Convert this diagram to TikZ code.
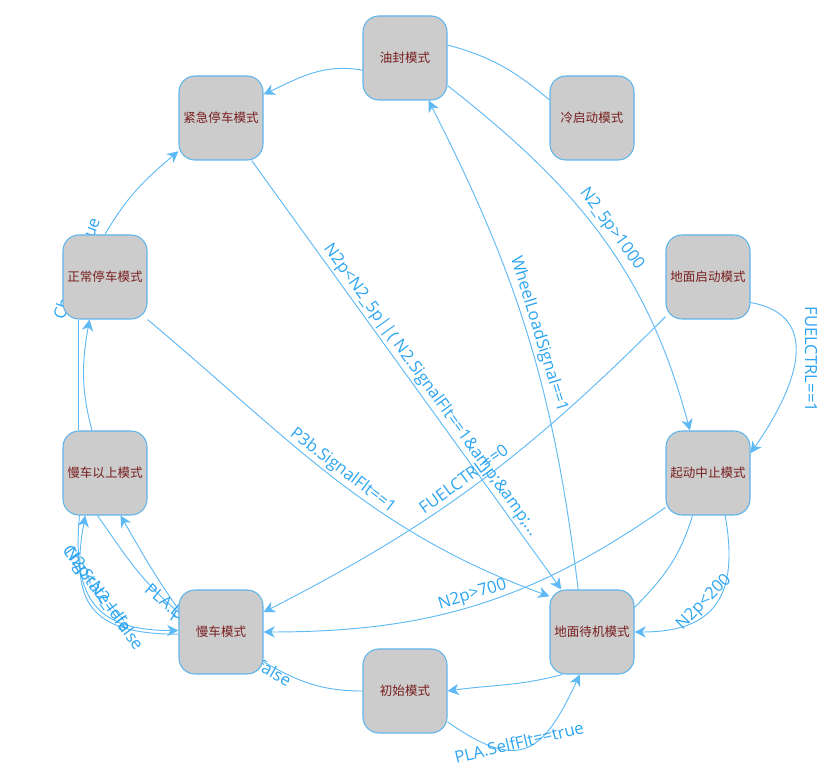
\documentclass[tikz,border=0pt]{standalone}
\usepackage{fontspec}
\setmainfont{Open Sans}
\newfontfamily\cjk{Noto Sans CJK SC}
\usetikzlibrary{arrows.meta}
\pgfdeclarelayer{bg}
\pgfsetlayers{bg,main}
\definecolor{edgecol}{RGB}{95,185,245}
\definecolor{lblcol}{RGB}{45,165,240}
\definecolor{nodeborder}{RGB}{95,180,235}
\definecolor{nodefill}{RGB}{204,204,204}
\definecolor{nodetext}{RGB}{120,30,30}
\tikzset{
  state/.style={draw=nodeborder, fill=nodefill, rounded corners=12pt, minimum width=63pt, minimum height=63pt, inner sep=0pt, line width=0.8pt, text=nodetext, font=\cjk\fontsize{9.4}{11}\selectfont},
  link/.style={draw=edgecol, line width=0.7pt, -{Stealth[length=8.5pt,width=8.5pt,inset=2.6pt]}},
  plainlink/.style={draw=edgecol, line width=0.7pt},
  lbl/.style={text=lblcol, font=\fontsize{12.5}{14}\selectfont, inner sep=1.5pt},
}
\begin{document}
\begin{tikzpicture}[x=0.75pt,y=0.75pt]
\useasboundingbox (0,0) rectangle (833,771);
\node[state] (oil) at (405,713) {油封模式};
\node[state] (cold) at (592,653) {冷启动模式};
\node[state] (emg) at (221,653) {紧急停车模式};
\node[state] (norm) at (105,494) {正常停车模式};
\node[state] (gstart) at (708,494) {地面启动模式};
\node[state] (above) at (105,298) {慢车以上模式};
\node[state] (abort) at (708,298) {起动中止模式};
\node[state] (idle) at (221,139) {慢车模式};
\node[state] (gstby) at (592,139) {地面待机模式};
\node[state] (init) at (405,80) {初始模式};
\begin{pgfonlayer}{bg}
\draw[link] (oil.196) to[out=170,in=25] (emg.29);
\draw[plainlink] (cold.157) to[out=140,in=-15] (oil.17);
\draw[link] (emg) -- (gstby) node[lbl, sloped, above, pos=0.55] {N2p<N2\_5p||( N2.SignalFlt==1\&amp;\&amp;...};
\draw[link] (norm.north) to[out=60,in=220] (emg.218);
\node[lbl, rotate=70] (lblch) at (78,502) {Charge==true};
\draw[link] (norm.-45) to[out=-40,in=160] node[lbl, sloped, above, pos=0.5] {P3b.SignalFlt==1} (gstby.140);
\draw[link] (oil.-33) to[out=-38,in=105] node[lbl, sloped, above, pos=0.5, inner sep=3pt] {N2\_5p>1000} (abort.113);
\draw[link] (gstby.108) to[out=97,in=-63] node[lbl, sloped, above, pos=0.5] {WheelLoadSignal==1} (oil.-61);
\draw[link] (gstart.-31) to[out=-10,in=55,looseness=1.3] node[lbl, pos=0.5, rotate=-90, anchor=south, inner sep=7pt] {FUELCTRL==1} (abort.25);
\draw[link] (gstart.223) to[out=225,in=27] node[lbl, sloped, above, pos=0.52, inner sep=4pt] {FUELCTRL==0} (idle.25);
\draw[link] (abort.219) to[out=215,in=0] node[lbl, sloped, above, pos=0.5] {N2p>700} (idle.east);
\draw[plainlink] (abort.250) to[out=-107,in=45] (gstby.30);
\draw[link] (abort.-68) to[out=-80,in=0,looseness=1.4] node[lbl, sloped, above, pos=0.55, inner sep=0.5pt] {N2p<200} (gstby.east);
\draw[link] (gstby.235) to[out=195,in=8] (init.east);
\draw[link] (init.-36) to[out=-35,in=-115,looseness=1.6] node[lbl, sloped, above, pos=0.45, inner sep=0pt] {PLA.SelfFlt==true} (gstby.-106);
\draw[plainlink] (idle.-35) to[out=-30,in=180] (init.west);
\node[lbl, rotate=-30, anchor=east] (lblfalse) at (292,88) {PLA.SelfFlt==false};
\draw[link] (above.-121) to[out=-95,in=180,looseness=1.4] (idle.178);
\draw[link] (idle.183) to[out=180,in=-100,looseness=1.5] (above.-115);
\node[lbl, rotate=-54] (lblchg) at (102,173) {ChgState==false};
\node[lbl, rotate=-54] (lbln2p) at (97,181) {N2p<N2\_Idle};
\draw[link] (idle.152) to[out=125,in=-60] (above.-70);
\draw[plainlink] (above.-100) to[out=-55,in=140] (idle.155);
\node[lbl, rotate=-40, anchor=west] (lblpla) at (146,186) {PLA.Level==1};
\draw[link] (above.107) to[out=105,in=-100] (norm.-110);
\draw[plainlink] (norm.-122) -- (above.122);
\end{pgfonlayer}
\end{tikzpicture}
\end{document}
